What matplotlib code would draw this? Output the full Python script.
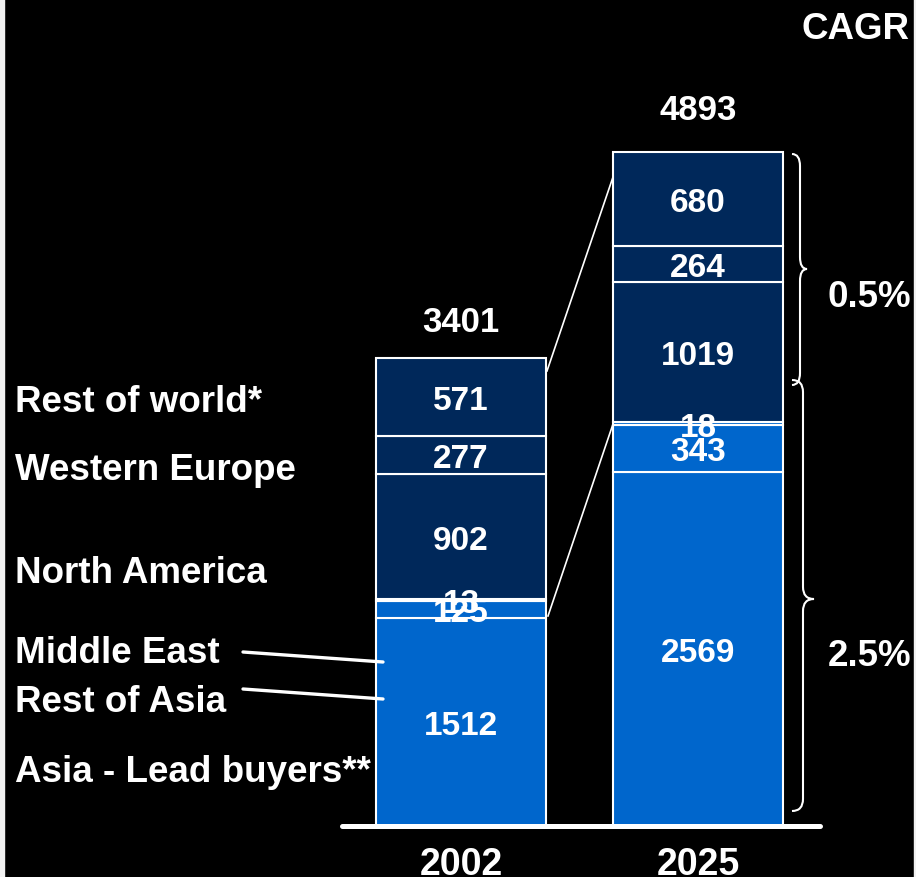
import matplotlib
matplotlib.use("Agg")
import matplotlib.pyplot as plt
import numpy as np
from matplotlib.path import Path
from matplotlib.patches import PathPatch, Rectangle

# ---------------- data ----------------
years = ["2002", "2025"]
regions = ["Asia - Lead buyers**", "Rest of Asia", "Middle East",
           "North America", "Western Europe", "Rest of world*"]
asia_lead = [1512, 2569]
rest_asia = [125, 343]
middle_east = [13, 18]
north_america = [902, 1019]
western_europe = [277, 264]
rest_world = [571, 680]
totals = [3401, 4893]
cagr_labels = ["0.5%", "2.5%"]

series = [asia_lead, rest_asia, middle_east, north_america, western_europe, rest_world]
LIGHT = "#0066CC"
DARK = "#00285A"
colors = [LIGHT, LIGHT, LIGHT, DARK, DARK, DARK]

plt.rcParams['font.family'] = ['Liberation Sans', 'DejaVu Sans']
plt.rcParams['font.weight'] = 'bold'

W, H = 916, 878
fig = plt.figure(figsize=(W / 100, H / 100), dpi=100)
fig.patch.set_facecolor("#f2f2f2")
ax = fig.add_axes([0, 0, 1, 1])
ax.set_facecolor("black")
for s in ax.spines.values():
    s.set_visible(False)
ax.set_xticks([]); ax.set_yticks([])

# pixel <-> data mapping (layout only)
Y0, S = 827.0, 0.13775
X0, SX = 461.0, 237.0
def py2v(py): return (Y0 - py) / S
def px2x(px): return (px - X0) / SX

ax.set_xlim(px2x(0), px2x(W))
ax.set_ylim(py2v(H), py2v(0))

# thin frame strips at left / right
ax.add_patch(Rectangle((0, 0), 4 / W, 1, transform=ax.transAxes, color="#f2f2f2", zorder=10))
ax.add_patch(Rectangle((1 - 2 / W, 0), 2 / W, 1, transform=ax.transAxes, color="#f2f2f2", zorder=10))

x = np.arange(len(years))
width = 170 / SX
bottom = np.zeros(len(years))
FS_IN = 24
for vals, c in zip(series, colors):
    vals = np.array(vals, dtype=float)
    ax.bar(x, vals, width=width, bottom=bottom, color=c, edgecolor="white",
           linewidth=1.5, zorder=2)
    for xi, b, v in zip(x, bottom, vals):
        ax.annotate(f"{int(v)}", (xi, b + v / 2), xytext=(0, -0.358 * FS_IN),
                    textcoords="offset points", ha="center", va="baseline",
                    color="white", fontsize=FS_IN, fontweight="bold", zorder=5)
    bottom += vals

# totals
tot_off_px = [26.5, 33]
for xi, t, o in zip(x, totals, tot_off_px):
    ax.annotate(f"{t}", (xi, t), xytext=(0, o * 0.72), textcoords="offset points",
                ha="center", va="baseline", color="white", fontsize=25, fontweight="bold")

# baseline
ax.plot([px2x(342), px2x(820)], [0, 0], color="white", lw=3.6,
        solid_capstyle="round", zorder=3)

# year labels
for xi, yr in zip(x, years):
    ax.text(xi, py2v(875), yr, ha="center", va="baseline", color="white",
            fontsize=27, fontweight="bold")

# connector lines
ax.plot([px2x(547), px2x(613)], [py2v(372), py2v(178)], color="white", lw=1.2, zorder=3)
ax.plot([px2x(548), px2x(613)], [py2v(617), py2v(425)], color="white", lw=1.2, zorder=3)

# left labels (baseline pixel positions)
label_baselines = [782, 712, 663, 583, 480, 412]
for name, by in zip(regions, label_baselines):
    ax.text(px2x(15), py2v(by), name, ha="left", va="baseline", color="white",
            fontsize=26.5, fontweight="bold")

# pointer lines for small segments
ax.plot([px2x(243), px2x(383)], [py2v(653), py2v(663)], color="white", lw=2.4,
        solid_capstyle="round", zorder=4)
ax.plot([px2x(243), px2x(383)], [py2v(690), py2v(700)], color="white", lw=2.4,
        solid_capstyle="round", zorder=4)

# braces
def brace(x0, x1, x2, ytop, ymid, ybot, r=12):
    pts = [
        (x0, ytop), (x1, ytop), (x1, ytop + r),
        (x1, ymid - r),
        (x1, ymid), (x2, ymid),
        (x1, ymid), (x1, ymid + r),
        (x1, ybot - r),
        (x1, ybot), (x0, ybot),
    ]
    codes = [Path.MOVETO, Path.CURVE3, Path.CURVE3, Path.LINETO,
             Path.CURVE3, Path.CURVE3, Path.CURVE3, Path.CURVE3,
             Path.LINETO, Path.CURVE3, Path.CURVE3]
    verts = [(px2x(px), py2v(py)) for px, py in pts]
    ax.add_patch(PathPatch(Path(verts, codes), facecolor="none", edgecolor="white",
                           lw=1.5, zorder=3))

brace(792, 800, 807, 155, 270, 386)
brace(792, 803, 814, 381, 600, 812)

# CAGR labels
ax.text(px2x(909), py2v(39), "CAGR", ha="right", va="baseline", color="white",
        fontsize=26.5, fontweight="bold")
for lab, by in zip(cagr_labels, [307, 666]):
    ax.text(px2x(911), py2v(by), lab, ha="right", va="baseline", color="white",
            fontsize=26.5, fontweight="bold")

fig.savefig("out.png", dpi=100, facecolor=fig.get_facecolor())
